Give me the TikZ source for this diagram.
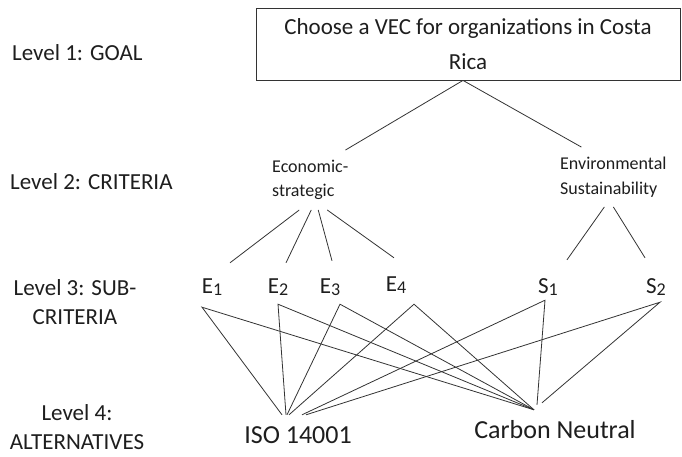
\documentclass[tikz,border=0pt]{standalone}
\usepackage{fontspec}
\setmainfont{Carlito}
\usepackage{tikz}
\definecolor{inkgray}{HTML}{1E1E1E}
\definecolor{linegray}{HTML}{333333}
\newcommand{\lowidx}[1]{\raisebox{-2.5pt}{\fontsize{18}{18}\selectfont#1}}
\tikzset{
  goalbox/.style={rectangle,draw=linegray,line width=0.8pt,minimum width=424pt,minimum height=72pt,
    align=center,text=inkgray,font=\fontsize{23}{35}\selectfont},
  lvl/.style={inner sep=0pt,text=inkgray,font=\fontsize{23}{29}\selectfont},
  crit/.style={inner sep=0pt,outer ysep=10pt,align=left,text=inkgray,font=\fontsize{18}{24.5}\selectfont},
  subcrit/.style={inner sep=0pt,minimum height=42pt,text=inkgray,font=\fontsize{23}{28}\selectfont},
  alt/.style={inner sep=0pt,minimum height=40pt,text=inkgray,font=\fontsize{26}{30}\selectfont},
  link/.style={draw=linegray,line width=0.8pt},
}

\begin{document}
\begin{tikzpicture}[x=1pt,y=-1pt]
  \useasboundingbox (0,0) rectangle (682,456);
  % level captions
  \node[lvl,anchor=west] (lvl1) at (12,53) {Level 1: GOAL};
  \node[lvl,anchor=west] (lvl2) at (10,182) {Level 2: CRITERIA};
  \node[lvl,align=center] (lvl3) at (75,302) {Level 3: SUB-\\CRITERIA};
  \node[lvl,align=center] (lvl4) at (77,427) {Level 4:\\ALTERNATIVES};
  % hierarchy
  \node[goalbox] (goal) at (468,44) {Choose a VEC for organizations in Costa\\Rica};
  \node[crit,anchor=west] (econ) at (272,180) {Economic-\\strategic};
  \node[crit,anchor=west] (env) at (560,177) {Environmental\\Sustainability};
  \node[subcrit] (e1) at (212,287) {E\lowidx{1}};
  \node[subcrit] (e2) at (278,287) {E\lowidx{2}};
  \node[subcrit] (e3) at (330,287) {E\lowidx{3}};
  \node[subcrit] (e4) at (396,285) {E\lowidx{4}};
  \node[subcrit] (s1) at (548,287) {S\lowidx{1}};
  \node[subcrit] (s2) at (656,287) {S\lowidx{2}};
  \node[alt] (iso) at (298,435) {ISO 14001};
  \node[alt] (carbon) at (555,430) {Carbon Neutral};
  % goal -> criteria
  \draw[link] ([xshift=-5pt]goal.south) -- ([xshift=-3pt]econ.north east);
  \draw[link] ([xshift=-5pt]goal.south) -- ([xshift=-32pt]env.north);
  % criteria -> sub-criteria
  \draw[link] ([xshift=-11pt]econ.south) -- ([shift={(18pt,3pt)}]e1.north);
  \draw[link] ([xshift=1pt]econ.south) -- ([shift={(8pt,3pt)}]e2.north);
  \draw[link] ([xshift=8pt]econ.south) -- ([shift={(2pt,5pt)}]e3.north);
  \draw[link] ([xshift=17pt]econ.south) -- ([shift={(-2pt,6pt)}]e4.north);
  \draw[link] ([xshift=-9pt]env.south) -- ([shift={(19pt,6pt)}]s1.north);
  \draw[link] (env.south) -- ([shift={(-11pt,8pt)}]s2.north);
  % sub-criteria -> alternatives
  \draw[link] ([xshift=-16pt]iso.north) -- ([shift={(-10pt,1pt)}]e1.south) -- ([xshift=-21pt]carbon.north);
  \draw[link] ([xshift=-12pt]iso.north) -- ([shift={(0pt,4pt)}]e2.south) -- ([xshift=-21pt]carbon.north);
  \draw[link] ([xshift=-11pt]iso.north) -- ([shift={(10pt,4pt)}]e3.south) -- ([xshift=-21pt]carbon.north);
  \draw[link] ([xshift=-9pt]iso.north) -- ([shift={(18pt,2pt)}]e4.south) -- ([xshift=-21pt]carbon.north);
  \draw[link] ([xshift=4pt]iso.north) -- ([shift={(-3pt,8pt)}]s1.south) -- ([shift={(-18pt,5pt)}]carbon.north);
  \draw[link] ([xshift=8pt]iso.north) -- ([shift={(4pt,6pt)}]s2.south) -- ([shift={(-13pt,7pt)}]carbon.north);
\end{tikzpicture}
\end{document}
